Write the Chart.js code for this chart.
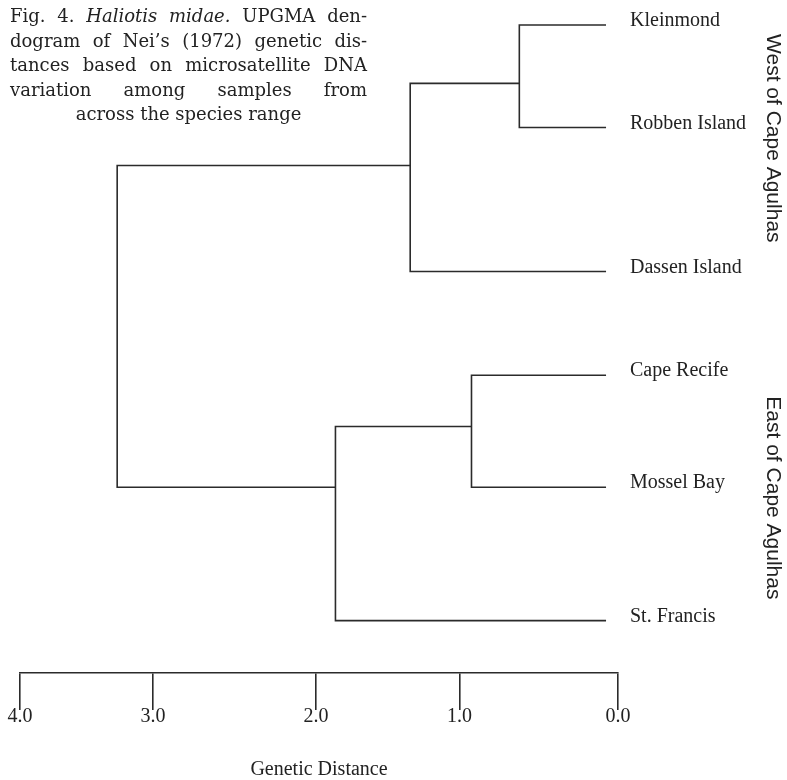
<!DOCTYPE html>
<html>
<head>
<meta charset="utf-8">
<script src="https://cdn.jsdelivr.net/npm/chart.js@4"></script>
<style>
  html, body { margin: 0; padding: 0; background: #fff; }
  #wrap { width: 787px; height: 780px; position: relative; }
</style>
</head>
<body>
<div id="wrap"><canvas id="myChart" width="787" height="780"></canvas></div>
<script>
// leaves, top to bottom, and the row each one sits on
const leaves = ["Kleinmond", "Robben Island", "Dassen Island", "Cape Recife", "Mossel Bay", "St. Francis"];
const leafRows = [0, 0.86, 2.07, 2.94, 3.88, 5.0];
const leafTip = 0.08;

// UPGMA joins: two children, join distance, row where the parent branch attaches
const mergeNames = ["m1", "m2", "west", "east", "root"];
const mergeLeft = ["Kleinmond", "Cape Recife", "m1", "m2", "west"];
const mergeRight = ["Robben Island", "Mossel Bay", "Dassen Island", "St. Francis", "east"];
const mergeHeight = [0.66, 0.98, 1.39, 1.89, 3.35];
const mergeRow = [0.49, 3.37, 1.18, 3.88, null];

// distance axis (the printed ticks are not evenly spaced)
const tickValues = [4.0, 3.11, 2.02, 1.06, 0.0];
const tickLabels = ["4.0", "3.0", "2.0", "1.0", "0.0"];

const groupNames = ["West of Cape Agulhas", "East of Cape Agulhas"];
const groupFrom = [0, 3];
const groupTo = [2, 5];

const captionLines = [
  [["Fig.", 0], ["4.", 0], ["Haliotis", 1], ["midae.", 1], ["UPGMA", 0], ["den-", 0]],
  [["dogram", 0], ["of", 0], ["Nei\u2019s", 0], ["(1972)", 0], ["genetic", 0], ["dis-", 0]],
  [["tances", 0], ["based", 0], ["on", 0], ["microsatellite", 0], ["DNA", 0]],
  [["variation", 0], ["among", 0], ["samples", 0], ["from", 0]],
  [["across", 0], ["the", 0], ["species", 0], ["range", 0]],
];

const lineColor = "#2b2b2b";
const textColor = "#222";

// node positions
const nodes = {};
leaves.forEach((name, i) => {
  nodes[name] = { h: leafTip, row: leafRows[i] };
});
const datasets = [];
mergeNames.forEach((name, i) => {
  const a = nodes[mergeLeft[i]];
  const b = nodes[mergeRight[i]];
  const h = mergeHeight[i];
  nodes[name] = { h: h, row: mergeRow[i] };
  datasets.push({
    data: [
      { x: a.h, y: a.row },
      { x: h, y: a.row },
      { x: h, y: b.row },
      { x: b.h, y: b.row },
    ],
    showLine: true,
    borderColor: lineColor,
    borderWidth: 1.6,
    pointRadius: 0,
    tension: 0,
    fill: false,
    clip: false,
  });
});

const textPlugin = {
  id: "textPlugin",
  afterDraw(chart) {
    const ctx = chart.ctx;
    ctx.save();
    ctx.fillStyle = textColor;

    // caption, justified
    const left = 10, right = 367;
    const fs = 18;
    captionLines.forEach((words, li) => {
      const y = 22 + li * 24.5;
      const widths = words.map(([w, it]) => {
        ctx.font = (it ? "italic " : "") + fs + "px 'DejaVu Serif'";
        return ctx.measureText(w).width;
      });
      const total = widths.reduce((s, w) => s + w, 0);
      let x, gap;
      if (li === captionLines.length - 1) {
        ctx.font = fs + "px 'DejaVu Serif'";
        gap = ctx.measureText(" ").width;
        x = (left + right) / 2 - (total + gap * (words.length - 1)) / 2;
      } else {
        gap = (right - left - total) / (words.length - 1);
        x = left;
      }
      ctx.textBaseline = "alphabetic";
      ctx.textAlign = "left";
      words.forEach(([w, it], k) => {
        ctx.font = (it ? "italic " : "") + fs + "px 'DejaVu Serif'";
        ctx.fillText(w, x, y);
        x += widths[k] + gap;
      });
    });

    // region labels, rotated
    const yScale = chart.scales.y;
    const nudge = [-10, 0];
    ctx.font = "21px 'Liberation Sans'";
    ctx.textAlign = "center";
    ctx.textBaseline = "middle";
    groupNames.forEach((g, i) => {
      const y0 = yScale.getPixelForValue(leafRows[groupFrom[i]]);
      const y1 = yScale.getPixelForValue(leafRows[groupTo[i]]);
      ctx.save();
      ctx.translate(chart.width - 14, (y0 + y1) / 2 + nudge[i]);
      ctx.rotate(Math.PI / 2);
      ctx.fillText(g, 0, 0);
      ctx.restore();
    });
    ctx.restore();
  },
};

new Chart("myChart", {
  type: "scatter",
  data: { datasets: datasets },
  plugins: [textPlugin],
  options: {
    responsive: false,
    animation: false,
    events: [],
    layout: { padding: { left: 20, top: 25, right: 0, bottom: 0 } },
    plugins: {
      legend: { display: false },
      tooltip: { enabled: false },
    },
    scales: {
      x: {
        type: "linear",
        position: "bottom",
        min: 0,
        max: 4,
        reverse: true,
        afterBuildTicks: (scale) => {
          scale.ticks = tickValues.map((v) => ({ value: v }));
        },
        afterFit: (scale) => {
          scale.height = 107;
        },
        ticks: {
          autoSkip: false,
          maxRotation: 0,
          padding: -5,
          color: textColor,
          font: { family: "'Liberation Serif'", size: 20 },
          callback: (v, i) => tickLabels[i],
        },
        grid: {
          display: true,
          drawOnChartArea: false,
          drawTicks: true,
          tickLength: 37,
          color: lineColor,
          lineWidth: 1.6,
        },
        border: { display: true, color: lineColor, width: 1.6 },
        title: {
          display: true,
          text: "Genetic Distance",
          color: textColor,
          font: { family: "'Liberation Serif'", size: 20 },
          padding: { top: 0, bottom: -2 },
        },
      },
      y: {
        type: "linear",
        position: "right",
        min: 0,
        max: 5.44,
        reverse: true,
        afterBuildTicks: (scale) => {
          scale.ticks = leafRows.map((v) => ({ value: v }));
        },
        afterFit: (scale) => {
          scale.width = 169;
        },
        ticks: {
          autoSkip: false,
          padding: 12,
          crossAlign: "near",
          labelOffset: -4,
          color: textColor,
          font: { family: "'Liberation Serif'", size: 20 },
          callback: (v, i) => leaves[i],
        },
        grid: { display: false, drawTicks: false },
        border: { display: false },
      },
    },
  },
});
</script>
</body>
</html>
